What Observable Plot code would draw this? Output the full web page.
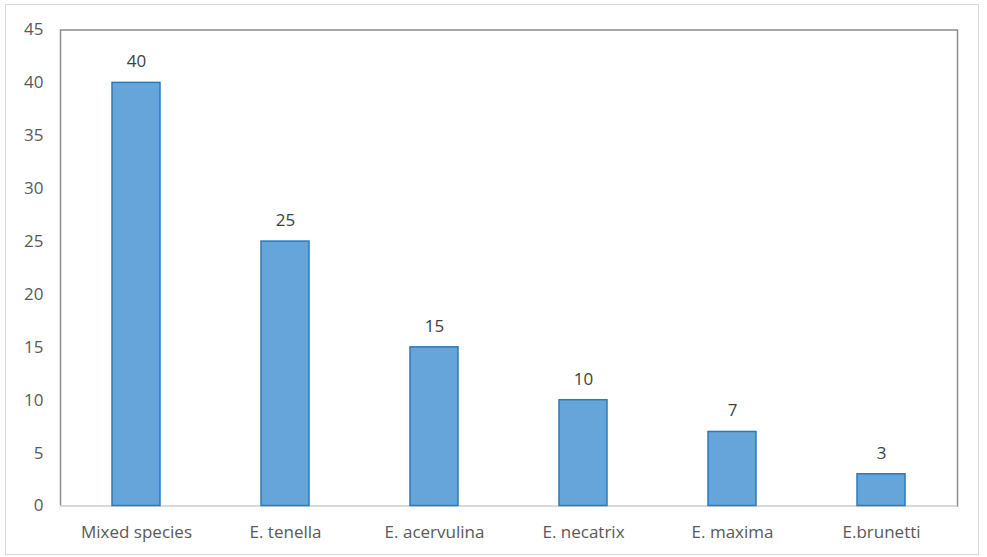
<!DOCTYPE html>
<html>
<head>
<meta charset="utf-8">
<script src="https://cdn.jsdelivr.net/npm/d3@7"></script>
<script src="https://cdn.jsdelivr.net/npm/@observablehq/plot@0.6"></script>
<style>
  html, body { margin: 0; padding: 0; background: #fff; }
  #wrap { position: relative; width: 987px; height: 557px; }
  #border { position: absolute; left: 5px; top: 4px; width: 974px; height: 551px; border: 1.5px solid #d9d9d9; box-sizing: border-box; pointer-events: none; }
  #chart { position: absolute; left: 0; top: 0; }
</style>
</head>
<body>
<div id="wrap"><div id="chart"></div><div id="border"></div></div>
<script>
const categories = ["Mixed species", "E. tenella", "E. acervulina", "E. necatrix", "E. maxima", "E.brunetti"];
const values = [40, 25, 15, 10, 7, 3];
const yTicks = [0, 5, 10, 15, 20, 25, 30, 35, 40, 45];

const data = categories.map((c, i) => ({category: c, value: values[i]}));

const chart = Plot.plot({
  width: 987,
  height: 557,
  marginLeft: 60,
  marginRight: 30,
  marginTop: 29.5,
  marginBottom: 51.5,
  style: {fontFamily: "'Open Sans', sans-serif", fontSize: "17px", color: "#595959", background: "transparent"},
  x: {domain: categories, paddingInner: 0.68, paddingOuter: 0.34, label: null, tickSize: 0, tickPadding: 20},
  y: {domain: [0, 45], ticks: yTicks, label: null, tickSize: 0, tickPadding: 17},
  marks: [
    Plot.frame({stroke: "#8c8c8c", strokeWidth: 1.5}),
    Plot.ruleY([0], {stroke: "#d9d9d9", strokeWidth: 2}),
    Plot.barY(data, {x: "category", y: "value", fill: "#66a5da", stroke: "#2a7abf", strokeWidth: 1.5}),
    Plot.text(data, {x: "category", y: "value", text: d => String(d.value), dy: -21, fill: "#404040", fontSize: 17})
  ]
});
document.getElementById("chart").appendChild(chart);
</script>
</body>
</html>
